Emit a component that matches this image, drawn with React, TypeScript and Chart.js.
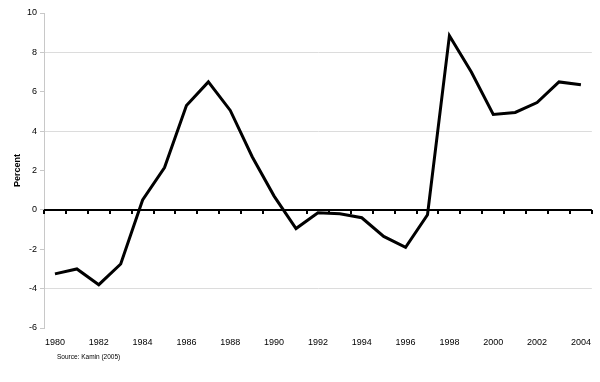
import React, { useEffect, useRef } from "react";
import { Chart, registerables } from "chart.js";

Chart.register(...registerables);

const years = ["1980","1981","1982","1983","1984","1985","1986","1987","1988","1989","1990","1991","1992","1993","1994","1995","1996","1997","1998","1999","2000","2001","2002","2003","2004"];
const percent = [-3.25,-3.0,-3.8,-2.75,0.5,2.15,5.3,6.5,5.05,2.7,0.7,-0.95,-0.15,-0.2,-0.4,-1.35,-1.9,-0.25,8.85,7.0,4.85,4.95,5.45,6.5,6.35];
const yTicks = [-6,-4,-2,0,2,4,6,8,10];
const sourceText = "Source: Kamin (2005)";
const yTitle = "Percent";

const zeroLinePlugin = {
  id: "zeroLine",
  beforeDatasetsDraw(chart: any) {
    const { ctx, scales } = chart;
    const x = scales.x;
    const y = scales.y;
    const y0 = y.getPixelForValue(0);
    ctx.save();
    ctx.strokeStyle = "#000";
    ctx.lineWidth = 2;
    ctx.beginPath();
    ctx.moveTo(x.left, y0);
    ctx.lineTo(x.right, y0);
    ctx.stroke();
    const step = x.getPixelForValue(1) - x.getPixelForValue(0);
    ctx.lineWidth = 2;
    for (let i = 0; i <= years.length; i++) {
      const px = Math.round(x.getPixelForValue(i) - step / 2);
      ctx.beginPath();
      ctx.moveTo(px, y0);
      ctx.lineTo(px, y0 + 4);
      ctx.stroke();
    }
    ctx.restore();
  },
  afterDraw(chart: any) {
    const { ctx } = chart;
    ctx.save();
    ctx.fillStyle = "#000";
    ctx.font = "6.5px 'Liberation Sans', Arial, sans-serif";
    ctx.textBaseline = "middle";
    ctx.fillText(sourceText, 57, 357);
    ctx.restore();
  },
};

export default function App() {
  const ref = useRef<HTMLCanvasElement>(null);
  useEffect(() => {
    if (!ref.current) return;
    const chart = new Chart(ref.current, {
      type: "line",
      data: {
        labels: years,
        datasets: [
          {
            data: percent,
            borderColor: "#000",
            borderWidth: 3,
            pointRadius: 0,
            tension: 0,
            fill: false,
          },
        ],
      },
      options: {
        animation: false,
        responsive: false,
        layout: { padding: { left: 0, right: 4, top: 13, bottom: 0 } },
        plugins: { legend: { display: false }, tooltip: { enabled: false } },
        scales: {
          x: {
            type: "category",
            offset: true,
            grid: { display: false, drawTicks: false },
            border: { display: false },
            ticks: {
              autoSkip: false,
              maxRotation: 0,
              padding: 9,
              color: "#000",
              font: { family: "'Liberation Sans', Arial, sans-serif", size: 9 },
              callback: (_v: any, i: number) => (i % 2 === 0 ? years[i] : ""),
            },
            afterFit: (s: any) => { s.height = 54; },
          },
          y: {
            min: -6,
            max: 10,
            afterBuildTicks: (s: any) => { s.ticks = yTicks.map((v) => ({ value: v })); },
            grid: {
              color: (c: any) => (c.tick && c.tick.value % 4 === 0 && c.tick.value !== 0 ? "#dcdcdc" : "rgba(0,0,0,0)"),
              tickColor: "#c8c8c8",
              tickLength: 4,
              lineWidth: 1,
            },
            border: { display: true, color: "#c8c8c8", width: 1 },
            ticks: {
              color: "#000",
              padding: 3,
              font: { family: "'Liberation Sans', Arial, sans-serif", size: 9 },
            },
            title: {
              display: true,
              text: yTitle,
              color: "#000",
              padding: { top: 12, bottom: 0 },
              font: { family: "'Liberation Sans', Arial, sans-serif", size: 9, weight: "bold" },
            },
            afterFit: (s: any) => { s.width = 44; },
          },
        },
      },
      plugins: [zeroLinePlugin],
    });
    return () => chart.destroy();
  }, []);
  return (
    <div style={{ position: "fixed", left: 0, top: 0, width: 600, height: 382, background: "#fff" }}>
      <canvas ref={ref} width={600} height={382} style={{ width: 600, height: 382 }} />
    </div>
  );
}
